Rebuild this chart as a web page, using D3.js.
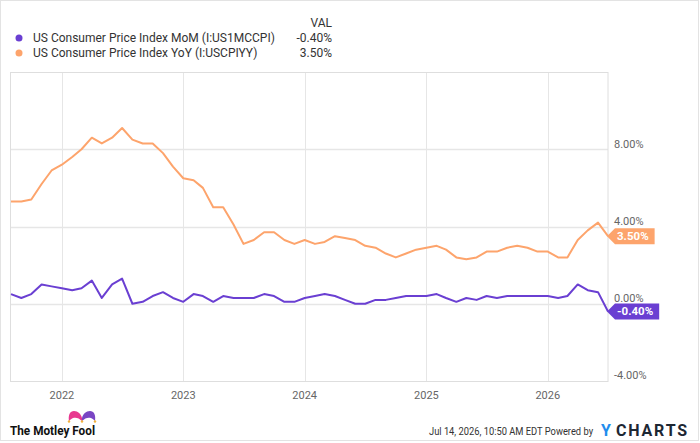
<!DOCTYPE html>
<html>
<head>
<meta charset="utf-8">
<script src="https://cdn.jsdelivr.net/npm/d3@7"></script>
<style>
  body { margin: 0; background: #fff; }
  svg { display: block; font-family: Roboto, "Open Sans", sans-serif; }
</style>
</head>
<body>
<div id="chart"></div>
<script>
// monthly observations, Jul 2021 .. Jun 2026
var months = [
  "2021-07","2021-08","2021-09","2021-10","2021-11","2021-12",
  "2022-01","2022-02","2022-03","2022-04","2022-05","2022-06","2022-07","2022-08","2022-09","2022-10","2022-11","2022-12",
  "2023-01","2023-02","2023-03","2023-04","2023-05","2023-06","2023-07","2023-08","2023-09","2023-10","2023-11","2023-12",
  "2024-01","2024-02","2024-03","2024-04","2024-05","2024-06","2024-07","2024-08","2024-09","2024-10","2024-11","2024-12",
  "2025-01","2025-02","2025-03","2025-04","2025-05","2025-06","2025-07","2025-08","2025-09","2025-10","2025-11","2025-12",
  "2026-01","2026-02","2026-03","2026-04","2026-05","2026-06"
];
var yoy = [
  5.3, 5.3, 5.4, 6.2, 6.9, 7.2,
  7.6, 8.0, 8.6, 8.3, 8.6, 9.1, 8.5, 8.3, 8.3, 7.8, 7.1, 6.5,
  6.4, 6.0, 5.0, 5.0, 4.1, 3.1, 3.3, 3.7, 3.7, 3.3, 3.1, 3.3,
  3.1, 3.2, 3.5, 3.4, 3.3, 3.0, 2.9, 2.6, 2.4, 2.6, 2.8, 2.9,
  3.0, 2.8, 2.4, 2.3, 2.4, 2.7, 2.7, 2.9, 3.0, 2.9, 2.7, 2.7,
  2.4, 2.4, 3.3, 3.8, 4.2, 3.5
];
var mom = [
  0.5, 0.3, 0.5, 1.0, 0.9, 0.8,
  0.7, 0.8, 1.2, 0.3, 1.0, 1.3, 0.0, 0.1, 0.4, 0.6, 0.3, 0.1,
  0.5, 0.4, 0.1, 0.4, 0.3, 0.3, 0.3, 0.5, 0.4, 0.1, 0.1, 0.3,
  0.4, 0.5, 0.4, 0.2, 0.0, 0.0, 0.2, 0.2, 0.3, 0.4, 0.4, 0.4,
  0.5, 0.3, 0.1, 0.3, 0.2, 0.4, 0.3, 0.4, 0.4, 0.4, 0.4, 0.4,
  0.3, 0.4, 1.0, 0.7, 0.6, -0.4
];
var yearTicks = ["2022", "2023", "2024", "2025", "2026"];
var valueTicks = [-4, 0, 4, 8];

var seriesInfo = [
  {name: "US Consumer Price Index MoM (I:US1MCCPI)", values: mom, color: "#6a3fd2"},
  {name: "US Consumer Price Index YoY (I:USCPIYY)", values: yoy, color: "#fda46c"}
];

var W = 700, H = 443;
var plot = {left: 10.5, right: 608, top: 72, bottom: 381};
var parseMonth = d3.timeParse("%Y-%m");
// points sit at the end of each month
var dates = months.map(m => d3.timeMonth.offset(parseMonth(m), 1));

var svg = d3.select("#chart").append("svg")
    .attr("width", W)
    .attr("height", H);

svg.append("rect")
    .attr("x", 0.5).attr("y", 0.5)
    .attr("width", W - 2).attr("height", 440)
    .attr("fill", "#fff")
    .attr("stroke", "#e3e3e3");

var x = d3.scaleTime()
    .domain([dates[0], dates[dates.length - 1]])
    .range([11, plot.right]);
var y = d3.scaleLinear()
    .domain([-4, 12])
    .range([plot.bottom, plot.top]);

// grid
var grid = svg.append("g");
grid.selectAll("line.v").data(yearTicks).enter().append("line")
    .attr("x1", d => Math.round(x(parseMonth(d + "-01"))) + 0.5)
    .attr("x2", d => Math.round(x(parseMonth(d + "-01"))) + 0.5)
    .attr("y1", plot.top).attr("y2", plot.bottom)
    .attr("stroke", "#e6e6e6");
grid.selectAll("line.h").data(valueTicks.filter(d => d > -4)).enter().append("line")
    .attr("x1", plot.left).attr("x2", plot.right)
    .attr("y1", d => Math.round(y(d)) + 0.5)
    .attr("y2", d => Math.round(y(d)) + 0.5)
    .attr("stroke", "#e6e6e6")
    .attr("stroke-width", 1.3);
grid.append("rect")
    .attr("x", plot.left).attr("y", plot.top + 0.5)
    .attr("width", plot.right - plot.left)
    .attr("height", plot.bottom - plot.top)
    .attr("fill", "none")
    .attr("stroke", "#dedede");

// right axis
var yAxis = d3.axisRight(y)
    .tickValues(valueTicks)
    .tickSize(0)
    .tickPadding(0)
    .tickFormat(d => d.toFixed(2) + "%");
var ya = svg.append("g")
    .attr("transform", "translate(614,0)")
    .call(yAxis);
ya.select(".domain").remove();
ya.selectAll("text")
    .attr("dy", "-0.2em")
    .attr("font-size", 11)
    .attr("font-family", "Roboto, sans-serif")
    .attr("fill", "#666");

// year labels
svg.append("g").selectAll("text").data(yearTicks).enter().append("text")
    .attr("x", d => x(parseMonth(d + "-01")))
    .attr("y", 399)
    .attr("text-anchor", "middle")
    .attr("font-size", 11)
    .attr("fill", "#666")
    .text(d => d);

// lines
var line = d3.line()
    .x((d, i) => x(dates[i]))
    .y(d => y(d));
svg.append("g").selectAll("path").data(seriesInfo.slice().reverse()).enter().append("path")
    .attr("d", d => line(d.values))
    .attr("fill", "none")
    .attr("stroke", d => d.color)
    .attr("stroke-width", 2)
    .attr("stroke-linejoin", "round");

// end value flags
seriesInfo.forEach(function(s) {
    var v = s.values[s.values.length - 1];
    var yc = y(v), x0 = plot.right - 1;
    var g = svg.append("g");
    var path = g.append("path").attr("fill", s.color);
    var t = g.append("text")
        .attr("x", x0 + 10)
        .attr("y", yc + 4)
        .attr("font-size", 11.5)
        .attr("font-weight", "bold")
        .attr("fill", "#fff")
        .text(v.toFixed(2) + "%");
    var w = t.node().getComputedTextLength() + 16;
    path.attr("d", "M" + x0 + "," + yc + "L" + (x0 + 8) + "," + (yc - 8) +
        "L" + (x0 + w) + "," + (yc - 8) + "L" + (x0 + w) + "," + (yc + 8) +
        "L" + (x0 + 8) + "," + (yc + 8) + "Z");
});

// legend
var legend = svg.append("g");
legend.append("text")
    .attr("x", 332).attr("y", 27)
    .attr("text-anchor", "end")
    .attr("font-size", 12)
    .attr("fill", "#333")
    .text("VAL");
seriesInfo.forEach(function(s, i) {
    var ly = 38 + i * 15;
    legend.append("circle")
        .attr("cx", 19).attr("cy", ly)
        .attr("r", 3.5)
        .attr("fill", s.color);
    legend.append("text")
        .attr("x", 33).attr("y", ly + 4)
        .attr("font-size", 12)
        .attr("fill", "#333")
        .text(s.name);
    legend.append("text")
        .attr("x", 332).attr("y", ly + 4)
        .attr("text-anchor", "end")
        .attr("font-size", 12)
        .attr("fill", "#333")
        .text(s.values[s.values.length - 1].toFixed(2) + "%");
});

// footer: Motley Fool logo
var logo = svg.append("g");
logo.append("path")
    .attr("d", "M69,421 C68,415 70,411 74,411 C78,411 81,414 82,418 L82,421 C79,418 76,417 73,418 C71,419 70,420 69,421 Z")
    .attr("fill", "#e8388f");
logo.append("path")
    .attr("d", "M82,421 L82,418 C83,414 86,411 90,411 C94,411 96,415 95,421 C94,420 93,419 91,418 C88,417 85,418 82,421 Z")
    .attr("fill", "#7a45c4");
logo.selectAll("circle").data([[69, 421.5], [82, 421.5], [95, 421.5]]).enter().append("circle")
    .attr("cx", d => d[0]).attr("cy", d => d[1])
    .attr("r", 1.2)
    .attr("fill", "#f2b33d");
logo.append("text")
    .attr("x", 10).attr("y", 434.5)
    .attr("font-size", 13.5)
    .attr("font-weight", "bold")
    .attr("fill", "#111")
    .attr("textLength", 85)
    .attr("lengthAdjust", "spacingAndGlyphs")
    .text("The Motley Fool");

// footer: timestamp (condensed look) and ycharts
svg.append("g")
    .attr("transform", "translate(429,434.5) scale(0.85,1)")
  .append("text")
    .attr("x", 0).attr("y", 0)
    .attr("font-size", 11)
    .attr("fill", "#333")
    .text("Jul 14, 2026, 10:50 AM EDT Powered by");
svg.append("text")
    .attr("x", 601).attr("y", 435.5)
    .attr("font-size", 16)
    .attr("font-weight", "bold")
    .attr("fill", "#1f8ded")
    .text("Y");
svg.append("text")
    .attr("x", 616).attr("y", 435.5)
    .attr("font-size", 16)
    .attr("font-weight", "bold")
    .attr("letter-spacing", 1.8)
    .attr("fill", "#1d2733")
    .text("CHARTS");
</script>
</body>
</html>
